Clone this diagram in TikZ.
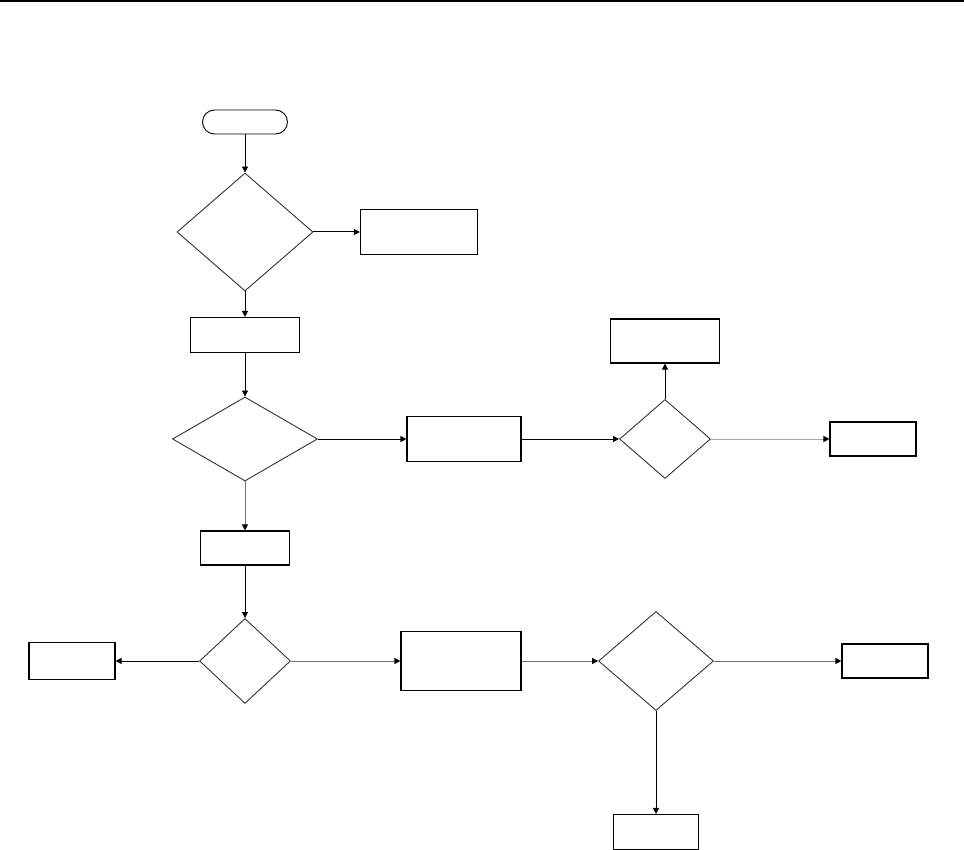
\documentclass[tikz,border=0pt]{standalone}
\usepackage{tikz}
\usetikzlibrary{arrows.meta,positioning,shapes.geometric}

\begin{document}
\begin{tikzpicture}[
  x=1pt, y=-1pt,
  term/.style={draw, rounded corners=12pt, line width=0.9pt, minimum width=85pt, minimum height=24pt, inner sep=0pt},
  box/.style={draw, line width=1.1pt, inner sep=0pt},
  decide/.style={draw, diamond, line width=0.9pt, draw=black!80, inner sep=0pt},
  arrow/.style={-{Triangle[length=6pt,width=6pt]}, line width=1pt},
  garrow/.style={-{Triangle[length=6pt,width=6pt,color=black]}, line width=1pt, draw=black!55}
]
\useasboundingbox (0,0) rectangle (964,850);
\fill (0,0) rectangle (964,2.5);

% main column
\node[term] (start) at (245,122) {};
\node[decide, minimum width=136pt, minimum height=118pt] (chk1) at (245,232) {};
\node[box, minimum width=117pt, minimum height=45pt] (out1) at (419,232) {};
\node[box, minimum width=109pt, minimum height=35pt] (step1) at (245,335) {};
\node[decide, minimum width=145pt, minimum height=84pt] (chk2) at (245,439) {};
\node[box, minimum width=89pt, minimum height=34pt] (step2) at (245,548) {};
\node[decide, minimum width=91pt, minimum height=85pt] (chk4) at (245,661) {};

% middle row
\node[box, minimum width=114pt, minimum height=45pt] (proc1) at (464,439) {};
\node[decide, minimum width=91pt, minimum height=79pt] (chk3) at (665,439) {};
\node[box, minimum width=109pt, minimum height=44pt] (out2) at (665,341) {};
\node[box, minimum width=86pt, minimum height=34pt] (out3) at (873,439) {};

% bottom row
\node[box, minimum width=86pt, minimum height=37pt] (out4) at (72,661) {};
\node[box, minimum width=120pt, minimum height=59pt] (proc2) at (461,661) {};
\node[decide, minimum width=115pt, minimum height=99pt] (chk5) at (656,661) {};
\node[box, minimum width=86pt, minimum height=34pt] (out5) at (885,661) {};
\node[box, minimum width=85pt, minimum height=35pt] (out6) at (656,832) {};

\draw[arrow] (start) -- (chk1);
\draw[arrow] (chk1) -- (out1);
\draw[arrow] (chk1) -- (step1);
\draw[arrow] (step1) -- (chk2);
\draw[arrow] (chk2) -- (proc1);
\draw[garrow] (chk2) -- (step2);
\draw[arrow] (proc1) -- (chk3);
\draw[arrow] (chk3) -- (out2);
\draw[garrow, draw=black!35] (chk3) -- (out3);
\draw[arrow] (step2) -- (chk4);
\draw[arrow] (chk4) -- (out4);
\draw[garrow] (chk4) -- (proc2);
\draw[garrow] (proc2) -- (chk5);
\draw[garrow] (chk5) -- (out5);
\draw[arrow] (chk5) -- (out6);
\end{tikzpicture}
\end{document}
